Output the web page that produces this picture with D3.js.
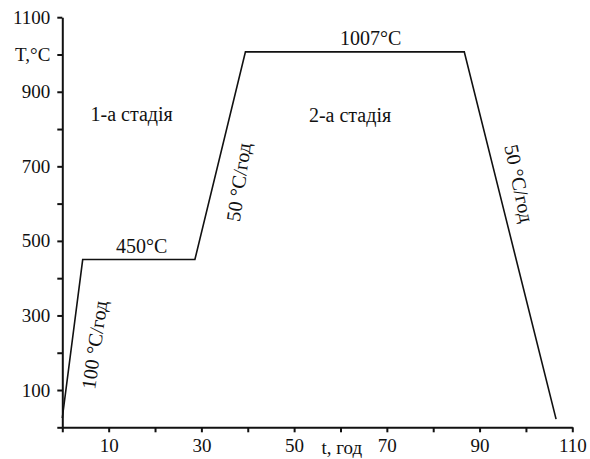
<!DOCTYPE html>
<html>
<head>
<meta charset="utf-8">
<script src="https://cdn.jsdelivr.net/npm/d3@7/dist/d3.min.js"></script>
<style>
  body { margin: 0; background: #fff; }
  svg { display: block; }
  text { font-family: "Liberation Serif", "Times New Roman", serif; fill: #111; }
</style>
</head>
<body>
<div id="main"></div>
<script>
// heat treatment schedule: time (h) vs temperature (°C)
var timeHours = [0, 4.4, 28.6, 39.5, 86.7, 106.5];
var tempC = [25, 450, 450, 1007, 1007, 22];

var xTicks = [0, 10, 20, 30, 40, 50, 60, 70, 80, 90, 100, 110];
var xTickLabels = [10, 30, 50, 70, 90, 110];
var yTicks = [0, 100, 200, 300, 400, 500, 600, 700, 800, 900, 1000, 1100];
var yTickLabels = [100, 300, 500, 700, 900, 1100];
var yTitleAt = 1000;
var yTitle = "T,°C";
var xTitle = "t, год";

var notes = [
    {text: "1-а стадія", t: 6.1, T: 822, rot: 0},
    {text: "450°C", t: 11.6, T: 467, rot: 0},
    {text: "1007°C", t: 59.9, T: 1025, rot: 0},
    {text: "2-а стадія", t: 53.2, T: 819, rot: 0},
    {text: "100 °C/год", t: 7.05, T: 100, rot: -82},
    {text: "50 °C/год", t: 38.3, T: 550, rot: -82},
    {text: "50 °C/год", t: 95.3, T: 754, rot: 78}
];

var width = 590, height = 459;
var fontSize = 19;
var noteSize = 20;

var svg = d3.select("#main").append("svg")
    .attr("width", width)
    .attr("height", height);

var x = d3.scaleLinear().domain([0, 110]).range([62.3, 572.3]);
var y = d3.scaleLinear().domain([0, 1100]).range([427.3, 17.2]);

var xAxis = d3.axisBottom(x)
    .tickValues(xTicks)
    .tickSize(5)
    .tickSizeOuter(0)
    .tickPadding(6)
    .tickFormat(function(d) { return xTickLabels.indexOf(d) >= 0 ? d : ""; });

var yAxis = d3.axisLeft(y)
    .tickValues(yTicks)
    .tickSize(5)
    .tickSizeOuter(0)
    .tickPadding(7)
    .tickFormat(function(d) {
        if (d === yTitleAt) return yTitle;
        return yTickLabels.indexOf(d) >= 0 ? d : "";
    });

var gx = svg.append("g")
    .attr("transform", "translate(0," + y(0) + ")")
    .call(xAxis);
var gy = svg.append("g")
    .attr("transform", "translate(" + x(0) + ",0)")
    .call(yAxis);

[gx, gy].forEach(function(g) {
    g.selectAll("path, line").attr("stroke", "#111").attr("stroke-width", 2);
    g.selectAll("text")
        .style("font-family", '"Liberation Serif", "Times New Roman", serif')
        .style("font-size", fontSize + "px")
        .attr("fill", "#111");
});

svg.append("text")
    .attr("x", x(60.3))
    .attr("y", 454)
    .attr("text-anchor", "middle")
    .style("font-size", fontSize + "px")
    .text(xTitle);

var pts = timeHours.map(function(t, i) { return [t, tempC[i]]; });
var line = d3.line()
    .x(function(d) { return x(d[0]); })
    .y(function(d) { return y(d[1]); });

svg.append("path")
    .datum(pts)
    .attr("d", line)
    .attr("fill", "none")
    .attr("stroke", "#111")
    .attr("stroke-width", 1.6);

svg.selectAll(".note")
    .data(notes)
    .enter()
    .append("text")
    .attr("class", "note")
    .attr("transform", function(d) {
        return "translate(" + x(d.t) + "," + y(d.T) + ") rotate(" + d.rot + ")";
    })
    .style("font-size", noteSize + "px")
    .text(function(d) { return d.text; });
</script>
</body>
</html>
